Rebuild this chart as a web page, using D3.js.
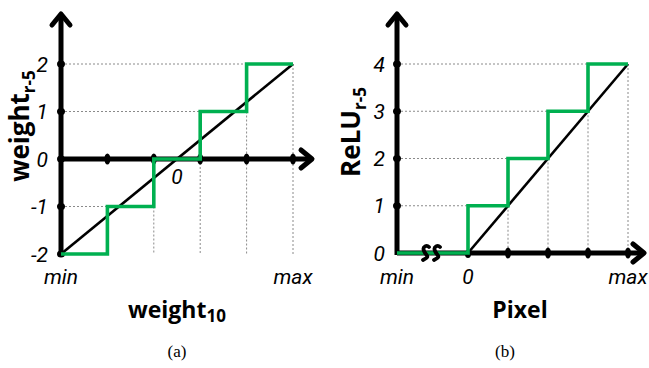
<!DOCTYPE html>
<html><head><meta charset="utf-8">
<script src="https://cdn.jsdelivr.net/npm/d3@7"></script>
<style>body{margin:0;background:#fff}svg{display:block}</style>
</head><body>
<svg id="c" width="649" height="368"></svg>
<script>
// Panel (a) data
const aSteps = [0,1,2,3,4,5];            // quantization steps min..max
const aLevels = [-2,-1,0,1,2];           // y tick values
const aGreen = [[0,-2],[1,-1],[2,0],[3,1],[4,2],[5,2]];
const aLine = [[0,-2],[5,2]];
const aZeroX = 2.5;
// Panel (b) data ( -1 stands for "min" across the axis break )
const bTicks = [0,1,2,3,4];
const bLevels = [0,1,2,3,4];
const bGreen = [[-1,0],[0,1],[1,2],[2,3],[3,4],[4,4]];
const bLine = [[0,0],[4,4]];

const svg = d3.select("#c");
const GREEN = "#00b050";
const tickFont = "Roboto, sans-serif";
const titleFont = "'Open Sans', sans-serif";
const TS = 21, TTL = 23, YTL = 26, SUB = 17;

function arrowUp(g,x,y){
  g.append("path").attr("d",`M${x-9},${y+13}L${x},${y+2}L${x+9},${y+13}`)
   .attr("fill","none").attr("stroke","#000").attr("stroke-width",5).attr("stroke-linecap","round").attr("stroke-linejoin","round");
}
function arrowRight(g,x,y){
  g.append("path").attr("d",`M${x-12},${y-9}L${x-1},${y}L${x-12},${y+9}`)
   .attr("fill","none").attr("stroke","#000").attr("stroke-width",5).attr("stroke-linecap","round").attr("stroke-linejoin","round");
}
function dashLine(g,x1,y1,x2,y2){
  g.append("line").attr("x1",x1).attr("x2",x2).attr("y1",y1).attr("y2",y2)
   .attr("stroke","#8a8a8a").attr("stroke-width",1).attr("stroke-dasharray","2,2");
}
function label(g,x,y,t,anchor){
  return g.append("text").attr("x",x).attr("y",y).attr("text-anchor",anchor||"middle")
    .attr("font-family",tickFont).attr("font-style","italic").attr("font-size",TS).text(t);
}
function yTitle(g,tx,ty,main,sub){
  const t = g.append("text").attr("transform",`translate(${tx},${ty}) rotate(-90)`).attr("text-anchor","middle")
    .attr("font-family",titleFont).attr("font-weight","bold").attr("font-size",YTL);
  t.append("tspan").text(main);
  t.append("tspan").attr("font-size",SUB).attr("dy",6).text(sub);
}

// ---------- Panel (a)
{
  const g = svg.append("g");
  const x = d3.scaleLinear().domain([0,5]).range([61,293]);
  const y = d3.scaleLinear().domain([-2,2]).range([254,64]);
  [[2,5],[1,4],[-1,1]].forEach(([v,s])=>dashLine(g,x(0),y(v),x(s),y(v)));
  aGreen.slice(2).forEach(([s,v],i)=>dashLine(g,x(s),y(Math.min(v, aGreen[i+1][1]) === v ? v : aGreen[i+1][1]),x(s),y(-2)));
  g.append("line").attr("x1",x(0)).attr("x2",x(0)).attr("y1",y(-2)).attr("y2",14).attr("stroke","#000").attr("stroke-width",5);
  arrowUp(g,x(0),12);
  g.append("line").attr("x1",x(0)).attr("x2",311).attr("y1",y(0)).attr("y2",y(0)).attr("stroke","#000").attr("stroke-width",5);
  arrowRight(g,313,y(0));
  aSteps.slice(1).forEach(s=>g.append("ellipse").attr("cx",x(s)).attr("cy",y(0)).attr("rx",3).attr("ry",5.5).attr("fill","#000"));
  aLevels.forEach(v=>g.append("ellipse").attr("cx",x(0)).attr("cy",y(v)).attr("rx",4).attr("ry",3.5).attr("fill","#000"));
  const ln = d3.line().x(d=>x(d[0])).y(d=>y(d[1]));
  g.append("path").attr("d",ln(aLine)).attr("stroke","#000").attr("stroke-width",2.6).attr("fill","none");
  g.append("path").attr("d",ln.curve(d3.curveStepAfter)(aGreen)).attr("stroke",GREEN).attr("stroke-width",3.6).attr("fill","none");
  aLevels.forEach(v=>label(g,48,y(v)+7.5,v,"end"));
  label(g,x(0),284,"min");
  label(g,x(5),284,"max");
  label(g,x(aZeroX),184,"0");
  const xt = g.append("text").attr("x",177).attr("y",318).attr("text-anchor","middle").attr("font-family",titleFont).attr("font-weight","bold").attr("font-size",TTL);
  xt.append("tspan").text("weight");
  xt.append("tspan").attr("font-size",SUB).attr("dy",4).text("10");
  yTitle(g,29,126,"weight","r-5");
  g.append("text").attr("x",177).attr("y",357).attr("text-anchor","middle").attr("font-family","'Liberation Serif', serif").attr("font-size",17).text("(a)");
}

// ---------- Panel (b)
{
  const g = svg.append("g");
  const x = d3.scaleLinear().domain([-1,0,4]).range([397,468,628]);
  const y = d3.scaleLinear().domain([0,4]).range([253,64]);
  bLevels.slice(1).forEach(v=>dashLine(g,x(-1),y(v),x(v),y(v)));
  bTicks.slice(1).forEach(s=>dashLine(g,x(s),y(s),x(s),y(0)));
  g.append("line").attr("x1",x(-1)).attr("x2",x(-1)).attr("y1",y(0)+2).attr("y2",14).attr("stroke","#000").attr("stroke-width",5);
  arrowUp(g,x(-1),12);
  g.append("line").attr("x1",x(-1)).attr("x2",643).attr("y1",y(0)).attr("y2",y(0)).attr("stroke","#000").attr("stroke-width",5);
  arrowRight(g,645,y(0));
  bTicks.slice(1).forEach(s=>g.append("ellipse").attr("cx",x(s)).attr("cy",y(0)).attr("rx",3).attr("ry",5.5).attr("fill","#000"));
  g.append("ellipse").attr("cx",x(0)).attr("cy",y(0)+1).attr("rx",3).attr("ry",4).attr("fill","#000");
  bLevels.slice(1).forEach(v=>g.append("ellipse").attr("cx",x(-1)).attr("cy",y(v)).attr("rx",4).attr("ry",3.5).attr("fill","#000"));
  const ln = d3.line().x(d=>x(d[0])).y(d=>y(d[1]));
  g.append("path").attr("d",ln(bLine)).attr("stroke","#000").attr("stroke-width",2.6).attr("fill","none");
  g.append("path").attr("d",ln.curve(d3.curveStepAfter)(bGreen)).attr("stroke",GREEN).attr("stroke-width",3.6).attr("fill","none");
  [426,437].forEach(bx=>{
    const c = y(0);
    g.append("path").attr("d",`M${bx+3},${c-6}C${bx+1},${c-8} ${bx-4},${c-7} ${bx-2},${c-2}S${bx+5},${c+3} ${bx-3},${c+7}`)
     .attr("fill","none").attr("stroke","#000").attr("stroke-width",3.8).attr("stroke-linecap","round");
  });
  bLevels.forEach(v=>label(g,385,y(v)+7.5,v,"end"));
  [["min",-1],["0",0],["max",4]].forEach(([t,v])=>label(g,x(v),284,t));
  g.append("text").attr("x",520).attr("y",318).attr("text-anchor","middle").attr("font-family",titleFont).attr("font-weight","bold").attr("font-size",TTL).text("Pixel");
  yTitle(g,360,132,"ReLU","r-5");
  g.append("text").attr("x",505).attr("y",357).attr("text-anchor","middle").attr("font-family","'Liberation Serif', serif").attr("font-size",17).text("(b)");
}
</script>
</body></html>
